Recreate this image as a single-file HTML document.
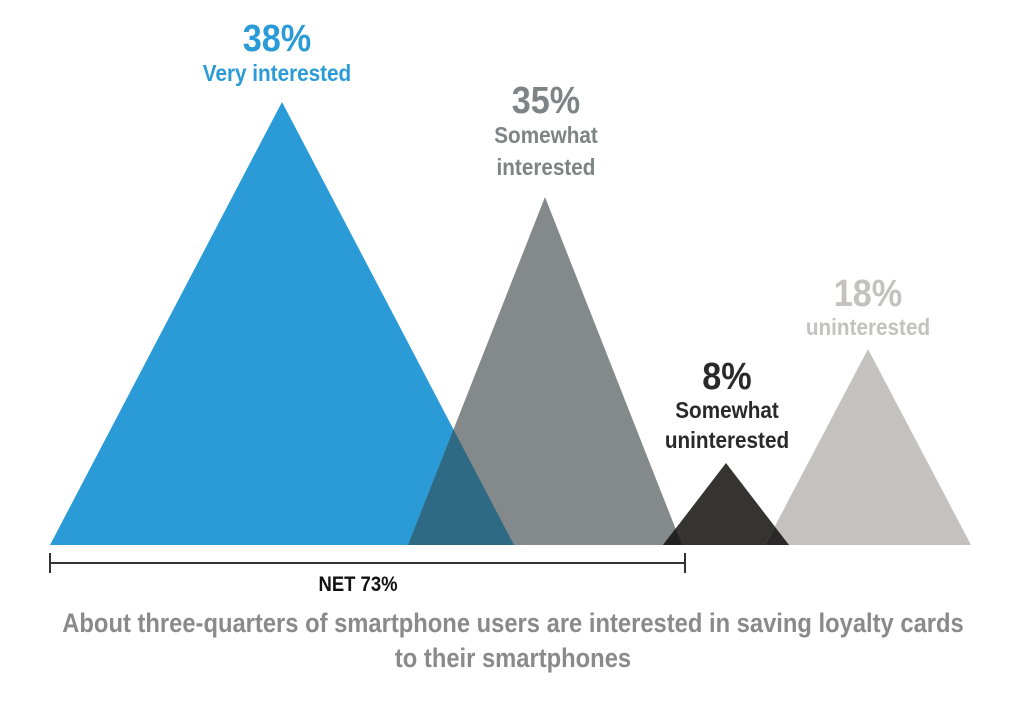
<!DOCTYPE html>
<html><head><meta charset="utf-8"><style>
body{margin:0;background:#fff;width:1024px;height:701px;overflow:hidden}
svg text{font-family:"Liberation Sans",sans-serif;font-weight:bold;text-anchor:middle}
</style></head><body>
<svg id="c" width="1024" height="701"></svg>
<script>
const categories=["Very interested","Somewhat interested","Somewhat uninterested","uninterested"];
const values=[38,35,8,18];
const labels=["38%","35%","8%","18%"];
const centers=[282,545,726,868];
const halfWidths=[232,137,63,103];
const colors=["#2a9bd7","#84898b","#363333","#c4c1c0"];
const baseY=545;
const dom=[0,8,18,35,38], rng=[0,82,196,348,443];
function h(v){for(let i=1;i<dom.length;i++){if(v<=dom[i]){const t=(v-dom[i-1])/(dom[i]-dom[i-1]);return rng[i-1]+t*(rng[i]-rng[i-1]);}}return rng[rng.length-1];}
const svg=document.getElementById('c');const NS="http://www.w3.org/2000/svg";
function mk(t,a){const e=document.createElementNS(NS,t);for(const k in a)e.setAttribute(k,a[k]);svg.appendChild(e);return e;}
function txt(x,y,s,fill,size,sx){const t=mk('text',{x:0,y:y,fill:fill,'font-size':size,transform:`translate(${x},0) scale(${sx},1)`});t.textContent=s;return t;}
const tris=values.map((v,i)=>({l:centers[i]-halfWidths[i],r:centers[i]+halfWidths[i],cx:centers[i],ty:baseY-h(v)}));
tris.forEach((t,i)=>{const p=mk('polygon',{points:`${t.l},${baseY} ${t.cx},${t.ty} ${t.r},${baseY}`,fill:colors[i]});

});
const ovColors=["#2e6a84","#222121","#2a2828"];
for(let i=0;i<3;i++){const A=tris[i],B=tris[i+1];if(B.l>=A.r)continue;
const s1=(baseY-A.ty)/(A.r-A.cx), s2=(B.ty-baseY)/(B.cx-B.l);
const x=(baseY-s2*B.l-A.ty+s1*A.cx)/(s1-s2);const y=A.ty+s1*(x-A.cx);
const p=mk('polygon',{points:`${B.l},${baseY} ${x},${y} ${A.r},${baseY}`,fill:ovColors[i]});

}
const textCol=["#2a9bd7","#7e8385","#2b2929","#c4c1c0"];
const lbl=[[277,51,[["Very interested",81]]],[546,113,[["Somewhat",143],["interested",175]]],[727,389,[["Somewhat",418],["uninterested",448]]],[868,306,[["uninterested",335]]]];
lbl.forEach((L,i)=>{const t=txt(L[0],L[1],labels[i],textCol[i],38,0.9);


L[2].forEach(s=>{const u=txt(L[0],s[1],s[0],textCol[i],23,0.9);

});});
const br=mk('path',{d:"M50,563H685M50,553V573M685,553V573",stroke:"#333",'stroke-width':2,fill:"none"});


const n=txt(358,591,"NET 73%","#111",21,0.88);


[["About three-quarters of smartphone users are interested in saving loyalty cards",632],["to their smartphones",667]].forEach(s=>{const t=txt(513,s[1],s[0],"#8a8a8a",27,0.88);

});
</script>
</body></html>
